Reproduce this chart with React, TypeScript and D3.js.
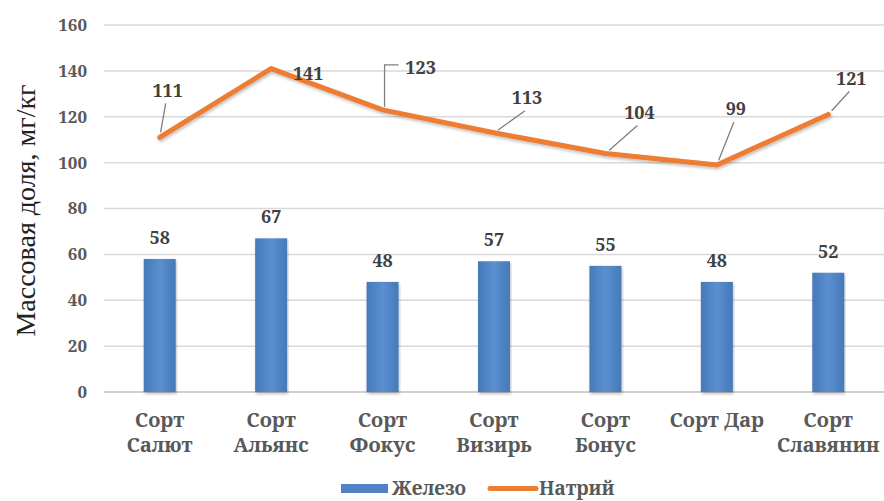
import React from "react";
import * as d3 from "d3";

// Содержание железа и натрия в сортах, мг/кг
const categories: string[][] = [
  ["Сорт", "Салют"],
  ["Сорт", "Альянс"],
  ["Сорт", "Фокус"],
  ["Сорт", "Визирь"],
  ["Сорт", "Бонус"],
  ["Сорт Дар"],
  ["Сорт", "Славянин"],
];
const iron = [58, 67, 48, 57, 55, 48, 52];
const sodium = [111, 141, 123, 113, 104, 99, 121];
const yTicks = [0, 20, 40, 60, 80, 100, 120, 140, 160];
const seriesNames = ["Железо", "Натрий"];

// Placement of sodium value labels relative to their points (px)
const sodiumLabelOffsets: { dx: number; dy: number; leader: "none" | "straight" | "elbow" }[] = [
  { dx: 8, dy: -47, leader: "straight" },
  { dx: 37, dy: 5, leader: "none" },
  { dx: 38, dy: -42, leader: "elbow" },
  { dx: 33, dy: -35, leader: "straight" },
  { dx: 34, dy: -41, leader: "straight" },
  { dx: 19, dy: -56, leader: "straight" },
  { dx: 23, dy: -36, leader: "straight" },
];

const W = 884;
const H = 501;
const M = { left: 104, right: 0, top: 25, bottom: 109 };
const LABEL_FONT = "'Noto Serif', 'Liberation Serif', serif";
const TITLE_FONT = "'Liberation Serif', serif";
const BLUE = "#4f83c4";
const ORANGE = "#ed7d31";
const TEXT = "#595959";

export default function App() {
  const x = d3
    .scaleBand<number>()
    .domain(d3.range(categories.length))
    .range([M.left, W - M.right])
    .padding(0);
  const y = d3.scaleLinear().domain([0, 160]).range([H - M.bottom, M.top]);
  const barW = 32;

  const line = d3
    .line<number>()
    .x((_, i) => x(i)! + x.bandwidth() / 2)
    .y((d) => y(d))
    .curve(d3.curveLinear);

  return (
    <svg
      width={W}
      height={H}
      style={{ position: "absolute", left: 0, top: 0, background: "#fff" }}
    >
      <defs>
        <linearGradient id="barGrad" x1="0" x2="1" y1="0" y2="0">
          <stop offset="0%" stopColor="#4679b8" />
          <stop offset="50%" stopColor="#5b8fd0" />
          <stop offset="100%" stopColor="#4679b8" />
        </linearGradient>
        <filter id="shadow" x="-5%" y="-20%" width="110%" height="140%">
          <feDropShadow dx="1" dy="2" stdDeviation="1.5" floodColor="#000" floodOpacity="0.25" />
        </filter>
      </defs>

      {/* gridlines */}
      {yTicks.map((t) => (
        <line
          key={t}
          x1={M.left}
          x2={W}
          y1={y(t)}
          y2={y(t)}
          stroke={t === 0 ? "#bfbfbf" : "#d9d9d9"}
          strokeWidth={1.5}
        />
      ))}

      {/* y tick labels */}
      {yTicks.map((t) => (
        <text
          key={t}
          x={87}
          y={y(t)}
          dy="0.35em"
          textAnchor="end"
          fontFamily={LABEL_FONT}
          fontWeight="bold"
          fontSize={17}
          fill={TEXT}
        >
          {t}
        </text>
      ))}

      {/* y axis title */}
      <text
        transform={`translate(35,${(y(0) + y(160)) / 2 + 2}) rotate(-90)`}
        textAnchor="middle"
        fontFamily={TITLE_FONT}
        fontSize={28}
        fill="#222"
      >
        Массовая доля, мг/кг
      </text>

      {/* iron bars */}
      {iron.map((v, i) => {
        const cx = x(i)! + x.bandwidth() / 2;
        return (
          <g key={i}>
            <rect
              x={cx - barW / 2}
              y={y(v)}
              width={barW}
              height={y(0) - y(v)}
              fill="url(#barGrad)"
              filter="url(#shadow)"
            />
            <text
              x={cx}
              y={y(v) - 15}
              textAnchor="middle"
              fontFamily={LABEL_FONT}
              fontWeight="bold"
              fontSize={18}
              fill="#404040"
            >
              {v}
            </text>
          </g>
        );
      })}

      {/* sodium line */}
      <path
        d={line(sodium) ?? ""}
        fill="none"
        stroke={ORANGE}
        strokeWidth={5}
        strokeLinejoin="round"
        strokeLinecap="round"
        filter="url(#shadow)"
      />

      {/* sodium labels with leaders */}
      {sodium.map((v, i) => {
        const px = x(i)! + x.bandwidth() / 2;
        const py = y(v);
        const o = sodiumLabelOffsets[i];
        const lx = px + o.dx;
        const ly = py + o.dy;
        let leader: React.ReactNode = null;
        if (o.leader === "straight") {
          const ex = lx - 2;
          const ey = ly + 13;
          const len = Math.hypot(ex - px, ey - py);
          const sx = px + ((ex - px) / len) * 5;
          const sy = py + ((ey - py) / len) * 5;
          leader = <line x1={sx} y1={sy} x2={ex} y2={ey} stroke="#7f7f7f" strokeWidth={1.3} />;
        } else if (o.leader === "elbow") {
          leader = (
            <polyline
              points={`${px + 2},${py - 3} ${px + 2},${ly - 3} ${lx - 22},${ly - 3}`}
              fill="none"
              stroke="#7f7f7f"
              strokeWidth={1.3}
            />
          );
        }
        return (
          <g key={i}>
            {leader}
            <text
              x={lx}
              y={ly}
              dy="0.35em"
              textAnchor="middle"
              fontFamily={LABEL_FONT}
              fontWeight="bold"
              fontSize={18}
              fill="#404040"
            >
              {v}
            </text>
          </g>
        );
      })}

      {/* category labels */}
      {categories.map((lines, i) => {
        const cx = x(i)! + x.bandwidth() / 2;
        return (
          <text
            key={i}
            x={cx}
            y={427}
            textAnchor="middle"
            fontFamily={LABEL_FONT}
            fontWeight="bold"
            fontSize={20}
            fill={TEXT}
          >
            {lines.map((l, j) => (
              <tspan key={j} x={cx} dy={j === 0 ? 0 : 25}>
                {l}
              </tspan>
            ))}
          </text>
        );
      })}

      {/* legend */}
      <g>
        <rect x={341} y={484} width={47} height={9} fill={BLUE} />
        <text x={392} y={488} dy="0.35em" fontFamily={LABEL_FONT} fontWeight="bold" fontSize={19} fill={TEXT}>
          {seriesNames[0]}
        </text>
        <line x1={490} x2={536} y1={488.5} y2={488.5} stroke={ORANGE} strokeWidth={5} strokeLinecap="round" />
        <text x={539} y={488} dy="0.35em" fontFamily={LABEL_FONT} fontWeight="bold" fontSize={19} fill={TEXT}>
          {seriesNames[1]}
        </text>
      </g>
    </svg>
  );
}
